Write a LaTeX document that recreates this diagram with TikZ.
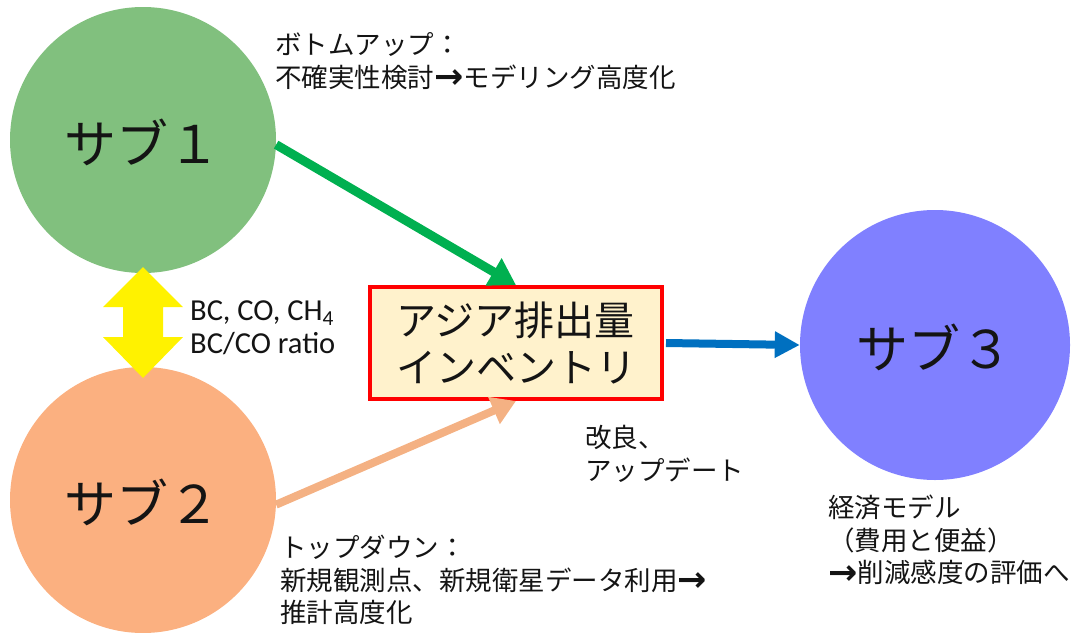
\documentclass[tikz,border=0pt]{standalone}
\usepackage{fontspec}
\setmainfont{Noto Sans CJK JP}
\newfontfamily\lat{Carlito}
\newfontfamily\arrfont{DejaVu Sans}
\newcommand{\rarr}{{\arrfont\bfseries\fontsize{35}{30}\selectfont\raisebox{-1.5pt}{→}}}
\usetikzlibrary{arrows.meta,calc}
\definecolor{cgreen}{RGB}{129,192,126}
\definecolor{corange}{RGB}{251,176,128}
\definecolor{cblue}{RGB}{128,128,255}
\definecolor{agreen}{RGB}{0,176,80}
\definecolor{aorange}{RGB}{244,177,131}
\definecolor{ablue}{RGB}{0,112,192}
\definecolor{boxfill}{RGB}{255,242,204}
\definecolor{txt}{RGB}{20,20,20}
\tikzset{
  sub/.style={circle,inner sep=0pt,minimum size=#1},
  bigtxt/.style={font=\fontsize{52}{56}\selectfont,text=txt},
  note/.style={anchor=west,inner sep=0pt,font=\fontsize{26.5}{32.5}\selectfont,text=txt,align=left},
  conn/.style={line width=#1},
}
\begin{document}
\begin{tikzpicture}[x=1pt,y=-1pt]
\useasboundingbox (0,0) rectangle (1075,632);
\node[sub=266pt,fill=cgreen] (s1) at (143,140) {};
\node[sub=266pt,fill=corange] (s2) at (143,500) {};
\node[sub=270pt,fill=cblue] (s3) at (935,345) {};
\node[bigtxt] (t1) at (142,142) {サブ１};
\node[bigtxt] (t2) at (142,502) {サブ２};
\node[bigtxt] (t3) at (934,347) {サブ３};
\node[draw=red,line width=4pt,fill=boxfill,minimum width=292pt,minimum height=112pt,inner sep=0pt,
  font=\fontsize{40}{47}\selectfont,text=txt,align=left] (inv) at (516,343) {アジア排出量\\インベントリ};
% arrows
\draw[conn=9pt,agreen,-{Triangle[length=26pt,width=30pt]}] (s1.-2) -- (inv.north);
\draw[conn=8pt,aorange,-{Triangle[length=24pt,width=28pt]}] (s2.-2) -- (inv.south);
\draw[conn=8pt,ablue,-{Triangle[length=25pt,width=25pt]}] ([xshift=2pt]inv.east) -- (s3.west);
% yellow double arrow
\coordinate (ya) at (143,267);
\coordinate (yb) at (143,378);
\fill[yellow] (ya) -- ++(40,40) -- ++(-20,0) -- ++(0,30) -- ++(20,0) -- (yb)
  -- ++(-40,-41) -- ++(20,0) -- ++(0,-30) -- ++(-20,0) -- cycle;
% labels
\node[note,font=\lat\fontsize{30.5}{33}\selectfont] (gas) at (190,328) {BC, CO, CH\textsubscript{4}\\BC/CO ratio};
\node[note] (bu) at (275,61) {ボトムアップ：\\不確実性検討\rarr モデリング高度化};
\node[note] (td) at (280,580) {トップダウン：\\新規観測点、新規衛星データ利用\rarr\\推計高度化};
\node[note] (kr) at (585,454) {改良、\\アップデート};
\node[note] (ec) at (828,540) {経済モデル\\（費用と便益）\\\rarr 削減感度の評価へ};
\end{tikzpicture}
\end{document}
